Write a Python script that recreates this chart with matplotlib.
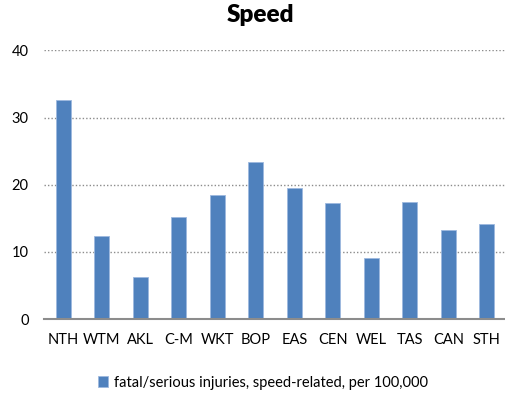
import matplotlib
matplotlib.use("Agg")
import matplotlib.pyplot as plt
import numpy as np

# Data
regions = ["NTH", "WTM", "AKL", "C-M", "WKT", "BOP", "EAS", "CEN", "WEL", "TAS", "CAN", "STH"]
speed_rate = [32.65, 12.42, 6.26, 15.25, 18.48, 23.35, 19.58, 17.34, 9.04, 17.44, 13.32, 14.11]
y_ticks = [0, 10, 20, 30, 40]
series_name = "fatal/serious injuries, speed-related, per 100,000"

plt.rcParams["font.family"] = ["Lato", "DejaVu Sans"]

fig = plt.figure(figsize=(5.06, 3.96), dpi=100)
ax = fig.add_axes([0.087, 0.194, 0.913, 0.679])

x = np.arange(len(regions))
ax.bar(x, speed_rate, width=0.4, color="#4F81BD", edgecolor="#9DB9DF", linewidth=0.6,
       label=series_name, zorder=3)

ax.set_xlim(-0.5, len(regions) - 0.5)
ax.set_ylim(0, 40)
ax.set_yticks(y_ticks)
ax.set_xticks(x)
ax.set_xticklabels(regions)
ax.tick_params(axis="both", length=0, labelsize=10.5, colors="black")
ax.tick_params(axis="x", pad=10)
ax.tick_params(axis="y", pad=11)

ax.yaxis.grid(True, linestyle=(0, (1, 1.5)), color="#8c8c8c", linewidth=1.0, zorder=0)
for side in ["top", "right", "left"]:
    ax.spines[side].set_visible(False)
ax.spines["bottom"].set_color("#8c8c8c")
ax.spines["bottom"].set_linewidth(1.5)
ax.spines["bottom"].set_zorder(4)

fig.text(0.514, 0.963, "Speed", ha="center", va="center", fontsize=17.5, fontweight="heavy")

fig.legend(loc="center", bbox_to_anchor=(0.52, 0.034), frameon=False, fontsize=10.5,
           handlelength=0.7, handleheight=0.7, handletextpad=0.4)

fig.savefig("out.png", dpi=100)
